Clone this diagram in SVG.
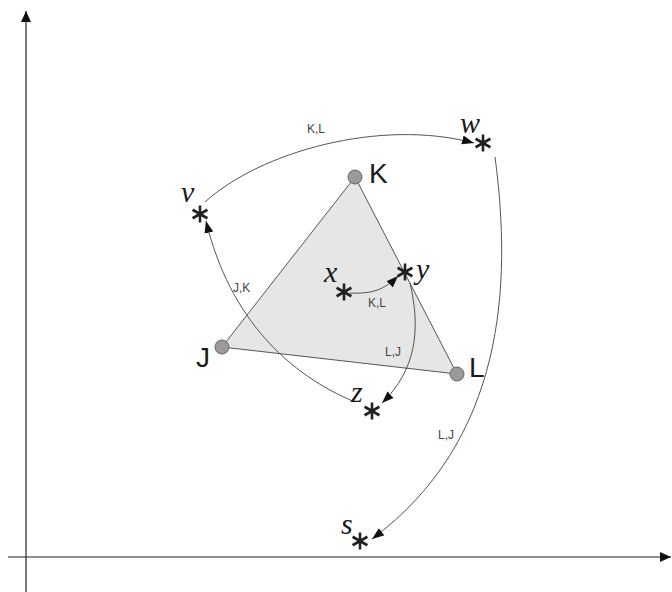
<svg xmlns="http://www.w3.org/2000/svg" width="672" height="592" viewBox="0 0 672 592">
<style>
.axis{stroke:#222;stroke-width:1.2;fill:none}
.con{stroke:#555;stroke-width:1;fill:none;marker-end:url(#ah)}
.tri{fill:#e6e6e6;stroke:#555;stroke-width:1}
.pt{fill:#9a9a9a;stroke:#666;stroke-width:1}
.big{font-family:"Liberation Sans",Arial,sans-serif;font-size:28px;fill:#1a1a1a}
.it{font-family:"Liberation Serif","Times New Roman",serif;font-style:italic;font-size:30px;fill:#1a1a1a}
.sm{font-family:"Liberation Sans",Arial,sans-serif;font-size:12px;fill:#444}
.star{stroke:#222;stroke-width:2.6;fill:none}
</style>
<defs>
<marker id="ah" markerWidth="13" markerHeight="10" refX="12" refY="4.5" orient="auto" markerUnits="userSpaceOnUse">
<path d="M0,0 L12,4.5 L0,9 Z" fill="#111"/>
</marker>
<marker id="axh" markerWidth="12" markerHeight="12" refX="11" refY="5" orient="auto" markerUnits="userSpaceOnUse">
<path d="M0,0 L11,5 L0,10 Z" fill="#111"/>
</marker>
<g id="star">
<path class="star" d="M0,-8.5 V8.5 M-7.4,-4.25 L7.4,4.25 M-7.4,4.25 L7.4,-4.25"/>
</g>
</defs>
<rect width="672" height="592" fill="#fff"/>
<g id="axes">
<path class="axis" d="M26,592 V11" marker-end="url(#axh)"/>
<path class="axis" d="M8,557 H671" marker-end="url(#axh)"/>
</g>
<g id="triangle">
<polygon class="tri" points="355,177 222,347 457,374"/>
</g>
<g id="connectors">
<path class="con" d="M205,202 C260,152 380,118 474,143"/>
<path class="con" d="M495,157 C512,285 505,440 372,539"/>
<path class="con" d="M355,402 C290,375 230,320 206,221"/>
<path class="con" d="M350,293 C372,294 384,290 398,276"/>
<path class="con" d="M410,283 C421,330 416,370 382,403"/>
</g>
<g id="node-K"><circle class="pt" cx="355" cy="177" r="7"/><text class="big" x="369" y="183">K</text></g>
<g id="node-J"><circle class="pt" cx="222" cy="347" r="7"/><text class="big" x="196" y="367">J</text></g>
<g id="node-L"><circle class="pt" cx="457" cy="374" r="7"/><text class="big" x="469" y="377">L</text></g>
<g id="node-v"><use href="#star" x="200" y="214"/><text class="it" x="181" y="202">v</text></g>
<g id="node-w"><use href="#star" x="483" y="143"/><text class="it" x="460" y="133">w</text></g>
<g id="node-x"><use href="#star" x="344" y="292"/><text class="it" x="324" y="282">x</text></g>
<g id="node-y"><use href="#star" x="405" y="272"/><text class="it" x="416" y="279">y</text></g>
<g id="node-z"><use href="#star" x="372" y="411"/><text class="it" x="351" y="402">z</text></g>
<g id="node-s"><use href="#star" x="360" y="541"/><text class="it" x="341" y="534">s</text></g>
<g id="labels">
<text class="sm" x="307" y="133">K,L</text>
<text class="sm" x="233" y="292">J,K</text>
<text class="sm" x="368" y="307">K,L</text>
<text class="sm" x="385" y="356">L,J</text>
<text class="sm" x="438" y="439">L,J</text>
</g>
</svg>
